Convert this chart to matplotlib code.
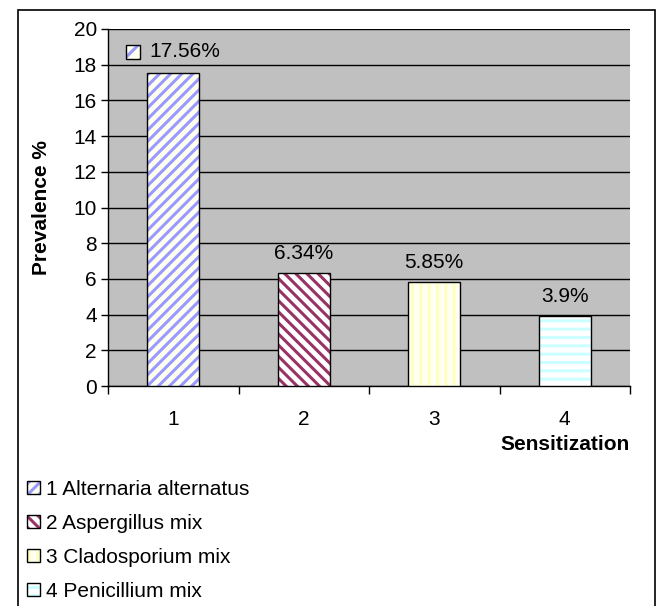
import numpy as np
import matplotlib
matplotlib.use("Agg")
import matplotlib.pyplot as plt
from matplotlib.patches import Rectangle
from matplotlib.offsetbox import AnnotationBbox, DrawingArea, TextArea, HPacker

plt.rcParams['font.family'] = ['Liberation Sans', 'DejaVu Sans']
plt.rcParams['hatch.linewidth'] = 2.2

categories = ['1', '2', '3', '4']
values = [17.56, 6.34, 5.85, 3.9]
value_labels = ['17.56%', '6.34%', '5.85%', '3.9%']
names = ['Alternaria alternatus', 'Aspergillus mix', 'Cladosporium mix', 'Penicillium mix']
stripe_colors = ['#9999FF', '#993366', '#FFFFC4', '#CCFFFF']
face_colors = ['#FFFFF0', '#FFFFFF', '#FFFFF2', '#FFFFFF']
hatches = ['///', '\\\\\\', '||', '--']

FS = 15


def main():
    fig = plt.figure(figsize=(6.68, 6.06), dpi=100)
    ax = fig.add_axes([108 / 668, 1 - 386 / 606, (630 - 108) / 668, (386 - 29) / 606])
    ax.set_facecolor('#C0C0C0')

    x = np.arange(1, len(values) + 1)
    handles = []
    for i in range(len(values)):
        hb = ax.bar(x[i], values[i], width=0.4, facecolor=face_colors[i],
                    edgecolor=stripe_colors[i], hatch=hatches[i], linewidth=0, zorder=3)
        ob = ax.bar(x[i], values[i], width=0.4, fill=False, edgecolor='black',
                    linewidth=1, zorder=4)
        handles.append((hb[0], ob[0]))

    # data labels
    for i in range(len(values)):
        if i == 0:
            da = DrawingArea(11, 11, 0, 0)
            da.add_artist(Rectangle((0, 0), 10, 10, facecolor=face_colors[0],
                                    edgecolor=stripe_colors[0], hatch='//', linewidth=0))
            da.add_artist(Rectangle((0, 0), 10, 10, fill=False, edgecolor='black', linewidth=1))
            ta = TextArea(value_labels[i], textprops=dict(fontsize=FS))
            pack = HPacker(children=[da, ta], align='center', pad=0, sep=6)
            ab = AnnotationBbox(pack, (x[i], values[i]), xybox=(0, 15),
                                boxcoords='offset points', frameon=False,
                                box_alignment=(0.5, 0.5), zorder=5)
            ax.add_artist(ab)
        else:
            ax.annotate(value_labels[i], (x[i], values[i]), xytext=(0, 14),
                        textcoords='offset points', ha='center', va='center',
                        fontsize=FS, zorder=5)

    ax.set_xlim(0.5, 4.5)
    ax.set_ylim(0, 20)
    ax.set_yticks(np.arange(0, 21, 2))
    ax.yaxis.grid(True, color='black', linewidth=1)
    ax.set_axisbelow(True)
    ax.tick_params(axis='y', direction='out', length=5, width=1, labelsize=FS, pad=3)

    ax.set_xticks(x)
    ax.set_xticklabels(categories)
    ax.set_xticks(np.arange(0.5, 4.6, 1), minor=True)
    ax.tick_params(axis='x', which='major', length=0, labelsize=FS, pad=17)
    ax.tick_params(axis='x', which='minor', direction='out', length=6, width=1)

    for side in ['top', 'right']:
        ax.spines[side].set_visible(False)
    ax.spines['left'].set_linewidth(1)
    ax.spines['bottom'].set_linewidth(1)

    ax.set_ylabel('Prevalence %', fontsize=FS, fontweight='bold', labelpad=16)
    ax.text(1.0, -0.165, 'Sensitization', transform=ax.transAxes, ha='right', va='center',
            fontsize=FS, fontweight='bold')

    labels = [f'{c} {n}' for c, n in zip(categories, names)]
    fig.legend(handles, labels, loc='upper left', bbox_to_anchor=(27 / 668, 1 - 480 / 606),
               frameon=False, fontsize=FS, handlelength=0.6, handleheight=0.6,
               handletextpad=0.3, labelspacing=0.72, borderpad=0, borderaxespad=0)

    # outer chart border
    fig.add_artist(Rectangle((18 / 668, -0.02), (655 - 18) / 668, 1 - 10 / 606 + 0.02,
                             transform=fig.transFigure, fill=False, edgecolor='black',
                             linewidth=1.2))

    fig.savefig('out.png', dpi=100)


if __name__ == "__main__":
    main()
